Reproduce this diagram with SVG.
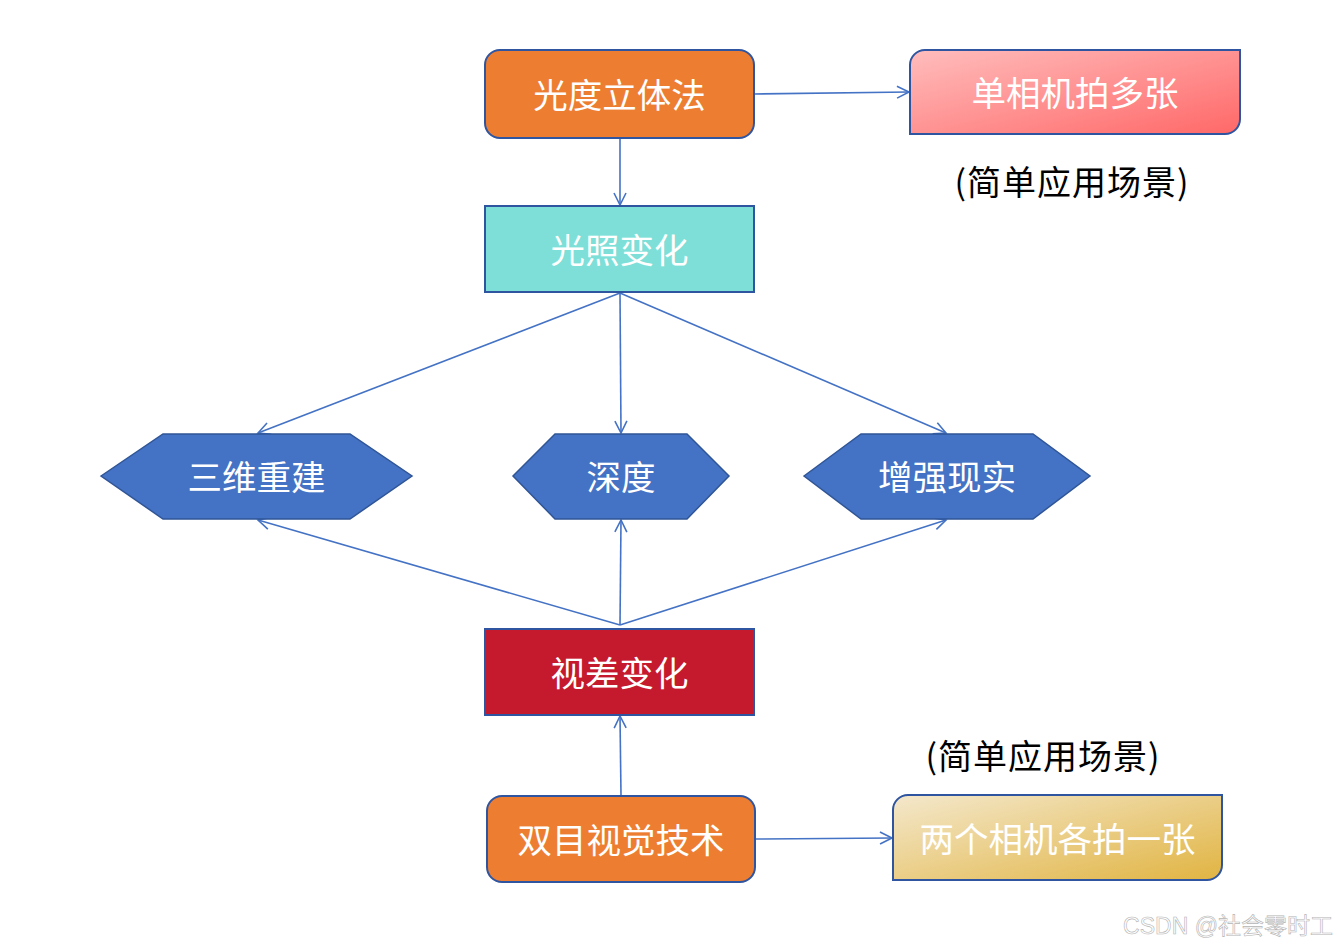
<svg xmlns="http://www.w3.org/2000/svg" width="1338" height="948" viewBox="0 0 1338 948">
<style>
.box{stroke:#2F55A0;stroke-width:2}
.hex{fill:#4472C4;stroke:#2F5597;stroke-width:1.5}
.t{font-family:"Noto Sans CJK SC","Liberation Sans",sans-serif;font-size:34.5px;fill:#fff;text-anchor:middle;dominant-baseline:central}
.note{font-family:"Noto Sans CJK SC","Liberation Sans",sans-serif;font-size:34px;letter-spacing:1px;fill:#000;text-anchor:middle;dominant-baseline:central}
.wm{font-family:"Liberation Sans","Noto Sans CJK SC",sans-serif;font-size:23px;fill:#fff;stroke:#b4b4b4;stroke-width:0.6;text-anchor:end}
.c{stroke:#4472C4;stroke-width:1.6;fill:none;marker-end:url(#ah)}
</style>
<defs>
<marker id="ah" markerWidth="16" markerHeight="16" refX="13" refY="7" orient="auto" markerUnits="userSpaceOnUse" viewBox="0 0 16 14">
<path d="M1,1 L13,7 L1,13" fill="none" stroke="#4472C4" stroke-width="1.6"/>
</marker>
<linearGradient id="gpink" x1="0" y1="0" x2="1" y2="1">
<stop offset="0" stop-color="#FFBDBD"/><stop offset="1" stop-color="#FF6868"/>
</linearGradient>
<linearGradient id="ggold" x1="0" y1="0" x2="1" y2="1">
<stop offset="0" stop-color="#F4E8CC"/><stop offset="1" stop-color="#E1B442"/>
</linearGradient>
</defs>
<rect width="1338" height="948" fill="#fff"/>
<g id="connectors">
<line class="c" x1="754" y1="94" x2="909" y2="92"/>
<line class="c" x1="620" y1="138" x2="620" y2="205"/>
<line class="c" x1="620" y1="293" x2="258" y2="433"/>
<line class="c" x1="620" y1="293" x2="621" y2="433"/>
<line class="c" x1="620" y1="293" x2="946" y2="433"/>
<line class="c" x1="620" y1="625" x2="258" y2="520"/>
<line class="c" x1="620" y1="625" x2="621" y2="520"/>
<line class="c" x1="620" y1="625" x2="946" y2="520"/>
<line class="c" x1="621" y1="796" x2="620" y2="716"/>
<line class="c" x1="755" y1="839" x2="892" y2="838"/>
</g>
<g id="n1">
<rect class="box" x="485" y="50" width="269" height="88" rx="15" fill="#ED7D31"/>
<text class="t" x="619.5" y="93">光度立体法</text>
</g>
<g id="n2">
<path class="box" d="M925,50 H1240 V119 A15,15 0 0 1 1225,134 H910 V65 A15,15 0 0 1 925,50 Z" fill="url(#gpink)"/>
<text class="t" x="1075" y="91">单相机拍多张</text>
</g>
<g id="note1"><text class="note" x="1072" y="180">(简单应用场景)</text></g>
<g id="n3">
<rect class="box" x="485" y="206" width="269" height="86" fill="#7DDFD8"/>
<text class="t" x="619.5" y="248">光照变化</text>
</g>
<g id="n4">
<polygon class="hex" points="101,476 163,434 350,434 412,476 350,519 163,519"/>
<text class="t" x="256.5" y="475">三维重建</text>
</g>
<g id="n5">
<polygon class="hex" points="513,476 555,434 687,434 729,476 687,519 555,519"/>
<text class="t" x="621" y="475">深度</text>
</g>
<g id="n6">
<polygon class="hex" points="804,476 861,434 1033,434 1090,476 1033,519 861,519"/>
<text class="t" x="947" y="475">增强现实</text>
</g>
<g id="n7">
<rect class="box" x="485" y="629" width="269" height="86" fill="#C5192D"/>
<text class="t" x="619.5" y="671">视差变化</text>
</g>
<g id="note2"><text class="note" x="1043" y="754">(简单应用场景)</text></g>
<g id="n8">
<rect class="box" x="487" y="796" width="268" height="86" rx="15" fill="#ED7D31"/>
<text class="t" x="621" y="838">双目视觉技术</text>
</g>
<g id="n9">
<path class="box" d="M908,795 H1222 V865 A15,15 0 0 1 1207,880 H893 V810 A15,15 0 0 1 908,795 Z" fill="url(#ggold)"/>
<text class="t" x="1057.5" y="837">两个相机各拍一张</text>
</g>
<text class="wm" x="1333" y="934">CSDN @社会零时工</text>
</svg>
